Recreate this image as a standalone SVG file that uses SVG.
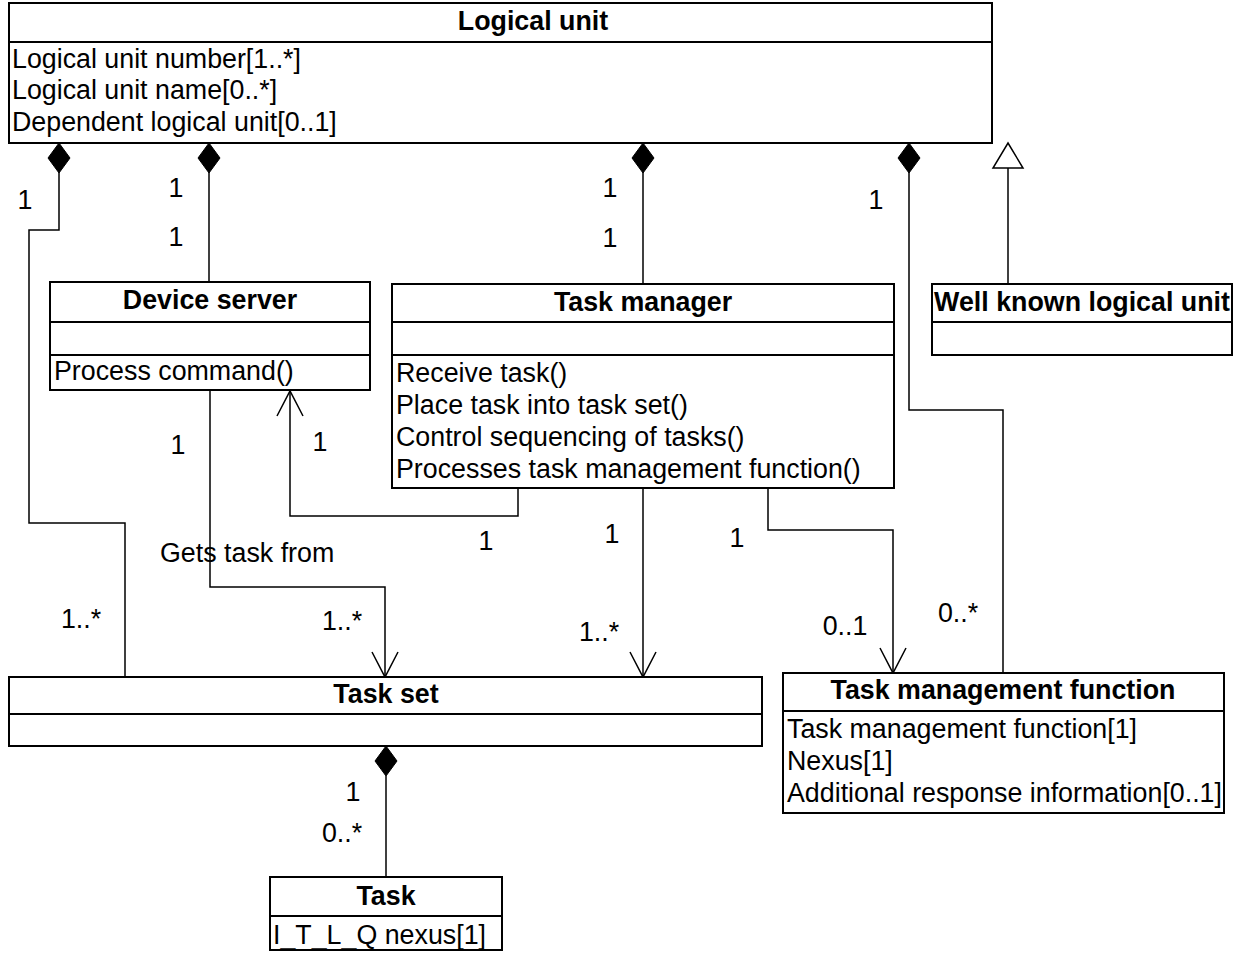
<svg xmlns="http://www.w3.org/2000/svg" width="1235" height="953" viewBox="0 0 1235 953">
<style>
.box{fill:#fff;stroke:#000;stroke-width:2}
.sep{stroke:#000;stroke-width:2}
.t{font-family:"Liberation Sans",Arial,sans-serif;font-size:26.8px;fill:#000}
.b{font-weight:bold;text-anchor:middle}
.m{text-anchor:middle}
.c{fill:none;stroke:#000;stroke-width:1.5}
.dia{fill:#000;stroke:#000;stroke-width:1}
.gen{fill:#fff;stroke:#000;stroke-width:1.5}
</style>
<rect width="1235" height="953" fill="#fff"/>
<g id="connectors">
  <polyline class="c" points="59,172 59,230 29,230 29,523 125,523 125,678"/>
  <line class="c" x1="209" y1="172" x2="209" y2="282"/>
  <line class="c" x1="643" y1="172" x2="643" y2="284"/>
  <polyline class="c" points="909,172 909,410 1003,410 1003,673"/>
  <line class="c" x1="1008" y1="168" x2="1008" y2="284"/>
  <polyline class="c" points="210,390 210,587 385,587 385,677"/>
  <polyline class="c" points="518,488 518,516 290,516 290,391"/>
  <line class="c" x1="643" y1="488" x2="643" y2="677"/>
  <polyline class="c" points="768,488 768,530 893,530 893,673"/>
  <line class="c" x1="386" y1="776" x2="386" y2="877"/>
  <path class="dia" d="M59,143 L70,158 L59,173 L48,158 Z"/>
  <path class="dia" d="M209,143 L220,158 L209,173 L198,158 Z"/>
  <path class="dia" d="M643,143 L654,158 L643,173 L632,158 Z"/>
  <path class="dia" d="M909,143 L920,158 L909,173 L898,158 Z"/>
  <path class="dia" d="M386,746 L397,761 L386,776 L375,761 Z"/>
  <path class="gen" d="M1008,143 L1023,168 L993,168 Z"/>
  <path class="c" d="M372,652 L385,677 L398,652"/>
  <path class="c" d="M630,652 L643,677 L656,652"/>
  <path class="c" d="M880,648 L893,673 L906,648"/>
  <path class="c" d="M277,416 L290,391 L303,416"/>
  <text class="t m" x="25" y="209">1</text>
  <text class="t m" x="176" y="197">1</text>
  <text class="t m" x="176" y="246">1</text>
  <text class="t m" x="610" y="197">1</text>
  <text class="t m" x="610" y="247">1</text>
  <text class="t m" x="876" y="209">1</text>
  <text class="t m" x="178" y="454">1</text>
  <text class="t m" x="320" y="451">1</text>
  <text class="t m" x="486" y="550">1</text>
  <text class="t m" x="612" y="543">1</text>
  <text class="t m" x="737" y="547">1</text>
  <text class="t m" x="81" y="628">1..*</text>
  <text class="t m" x="342" y="630">1..*</text>
  <text class="t m" x="599" y="641">1..*</text>
  <text class="t m" x="845" y="635">0..1</text>
  <text class="t m" x="958" y="622">0..*</text>
  <text class="t m" x="353" y="801">1</text>
  <text class="t m" x="342" y="842">0..*</text>
  <text class="t" x="160" y="562">Gets task from</text>
</g>
<g id="logical-unit">
  <rect class="box" x="9" y="3" width="983" height="140"/>
  <line class="sep" x1="9" y1="42" x2="992" y2="42"/>
  <text class="t b" x="533" y="30">Logical unit</text>
  <text class="t" x="12" y="68">Logical unit number[1..*]</text>
  <text class="t" x="12" y="99">Logical unit name[0..*]</text>
  <text class="t" x="12" y="131">Dependent logical unit[0..1]</text>
</g>
<g id="device-server">
  <rect class="box" x="50" y="282" width="320" height="108"/>
  <line class="sep" x1="50" y1="322" x2="370" y2="322"/>
  <line class="sep" x1="50" y1="355" x2="370" y2="355"/>
  <text class="t b" x="210" y="309">Device server</text>
  <text class="t" x="54" y="380">Process command()</text>
</g>
<g id="task-manager">
  <rect class="box" x="392" y="284" width="502" height="204"/>
  <line class="sep" x1="392" y1="322" x2="894" y2="322"/>
  <line class="sep" x1="392" y1="355" x2="894" y2="355"/>
  <text class="t b" x="643" y="311">Task manager</text>
  <text class="t" x="396" y="382">Receive task()</text>
  <text class="t" x="396" y="414">Place task into task set()</text>
  <text class="t" x="396" y="446">Control sequencing of tasks()</text>
  <text class="t" x="396" y="478">Processes task management function()</text>
</g>
<g id="well-known-logical-unit">
  <rect class="box" x="932" y="284" width="300" height="71"/>
  <line class="sep" x1="932" y1="322" x2="1232" y2="322"/>
  <text class="t b" x="1082" y="311">Well known logical unit</text>
</g>
<g id="task-set">
  <rect class="box" x="9" y="677" width="753" height="69"/>
  <line class="sep" x1="9" y1="714" x2="762" y2="714"/>
  <text class="t b" x="386" y="703">Task set</text>
</g>
<g id="task-management-function">
  <rect class="box" x="783" y="673" width="441" height="140"/>
  <line class="sep" x1="783" y1="711" x2="1224" y2="711"/>
  <text class="t b" x="1003" y="699">Task management function</text>
  <text class="t" x="787" y="738">Task management function[1]</text>
  <text class="t" x="787" y="770">Nexus[1]</text>
  <text class="t" x="787" y="802">Additional response information[0..1]</text>
</g>
<g id="task">
  <rect class="box" x="270" y="877" width="232" height="73"/>
  <line class="sep" x1="270" y1="916" x2="502" y2="916"/>
  <text class="t b" x="386" y="905">Task</text>
  <text class="t" x="273" y="944">I_T_L_Q nexus[1]</text>
</g>
</svg>
